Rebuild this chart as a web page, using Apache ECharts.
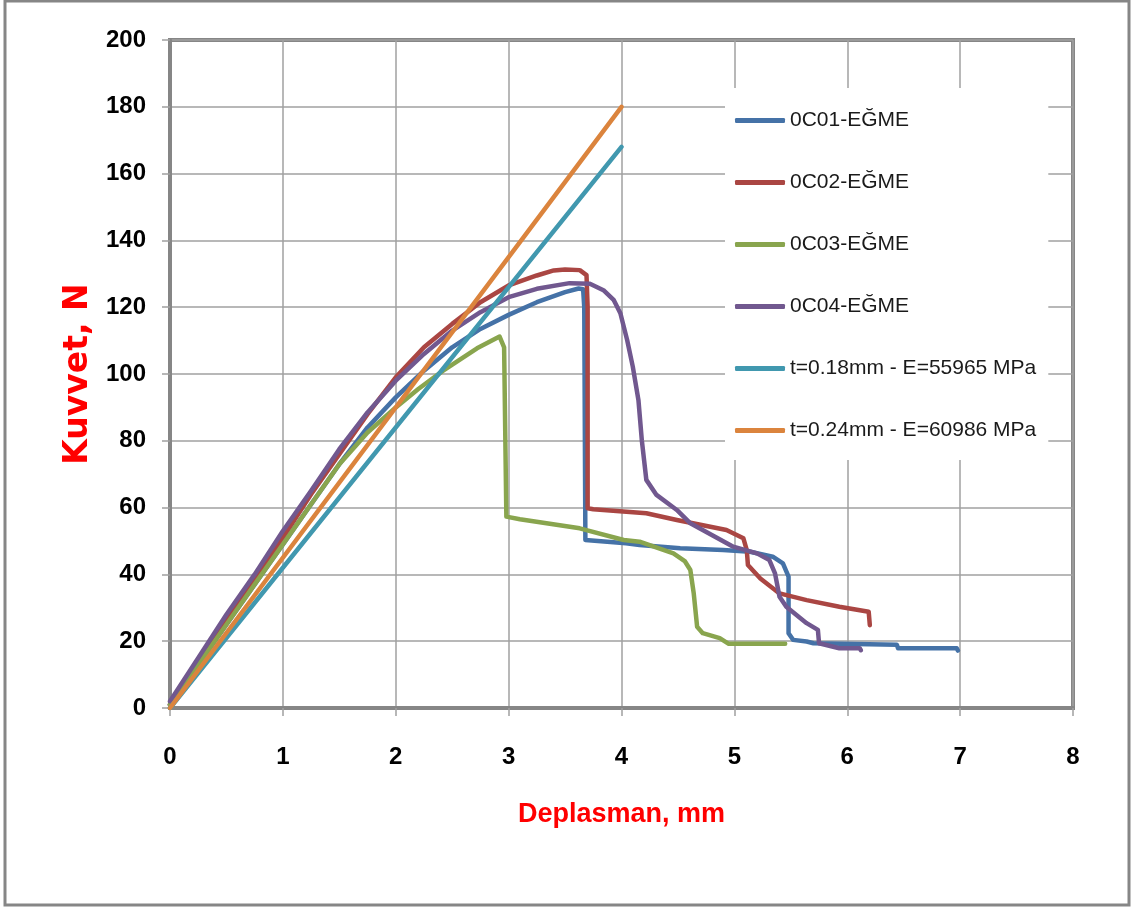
<!DOCTYPE html>
<html>
<head>
<meta charset="utf-8">
<script src="https://cdn.jsdelivr.net/npm/echarts@6/dist/echarts.min.js"></script>
<style>
html,body{margin:0;padding:0;background:#fff;}
#c{width:1132px;height:909px;}
</style>
</head>
<body>
<div id="c"></div>
<script>
var seriesNames = ['0C01-EĞME','0C02-EĞME','0C03-EĞME','0C04-EĞME','t=0.18mm - E=55965 MPa','t=0.24mm - E=60986 MPa'];
var seriesColors = ['#4572A7','#AA4643','#89A54E','#71588F','#4198AF','#DB843D'];
var xTicks = [0,1,2,3,4,5,6,7,8];
var yTicks = [0,20,40,60,80,100,120,140,160,180,200];

var data0C01 = [[0,1],[0.25,13],[0.5,25],[0.75,37],[1,49],[1.25,61],[1.5,73],[1.75,84],[2,93],[2.25,101],[2.5,108],[2.75,113.5],[3,117.7],[3.25,121.5],[3.5,124.5],[3.62,125.6],[3.66,125.4],[3.67,120],[3.68,50.3],[4.04,49.3],[4.16,48.8],[4.52,47.8],[4.9,47.3],[5.14,46.8],[5.34,45.3],[5.43,43.3],[5.48,39.3],[5.48,22.4],[5.52,20.4],[5.64,19.9],[5.7,19.4],[6.44,18.9],[6.45,17.9],[6.97,17.9],[6.98,17.2]];
var data0C02 = [[0,1],[0.25,13],[0.5,26],[0.75,39],[1,51],[1.25,64],[1.5,76],[1.75,88],[2,99],[2.25,108],[2.5,115],[2.75,121.5],[3,126.5],[3.25,129.5],[3.4,131],[3.5,131.3],[3.63,131.1],[3.69,129.6],[3.7,120],[3.7,59.8],[3.75,59.5],[4.22,58.3],[4.49,56.3],[4.93,53.3],[5.08,50.8],[5.11,47.3],[5.12,42.8],[5.23,38.8],[5.4,34.3],[5.64,32.3],[5.93,30.3],[6.19,28.8],[6.2,24.8]];
var data0C03 = [[0,1],[0.25,13],[0.5,25],[0.75,37],[1,49],[1.25,61],[1.5,73],[1.75,82.5],[2,90],[2.2,95.5],[2.42,101],[2.72,107.7],[2.92,111.2],[2.96,108],[2.98,57.3],[3.1,56.5],[3.63,53.8],[4.02,50.3],[4.16,49.8],[4.46,46.3],[4.56,44],[4.61,41.3],[4.64,34.3],[4.67,24.3],[4.72,22.4],[4.87,20.9],[4.95,19.2],[5.45,19.2]];
var data0C04 = [[0,2],[0.25,15],[0.5,28],[0.75,40],[1,53],[1.25,65],[1.5,77.5],[1.75,88.5],[2,98],[2.25,106],[2.5,113],[2.75,118.5],[3,123],[3.25,125.5],[3.54,127.2],[3.72,127],[3.84,125.1],[3.93,122.2],[3.99,118.2],[4.05,110.2],[4.1,102.2],[4.15,92.2],[4.18,80.2],[4.22,68.3],[4.31,63.8],[4.49,59.3],[4.61,55.3],[4.99,48.3],[5.2,46.3],[5.31,44.3],[5.36,40.3],[5.4,33.3],[5.46,30.3],[5.64,25.4],[5.74,23.4],[5.75,19.4],[5.93,17.9],[6.11,17.9],[6.12,17.3]];
var dataT018 = [[0,0],[4,168]];
var dataT024 = [[0,0],[4,180]];

var allData = [data0C01, data0C02, data0C03, data0C04, dataT018, dataT024];

var chart = echarts.init(document.getElementById('c'), null, {renderer:'canvas'});
var series = allData.map(function(d, i){
  return {
    name: seriesNames[i],
    type: 'line',
    data: d,
    showSymbol: false,
    symbol: 'none',
    color: seriesColors[i],
    lineStyle: {width: 4.5, color: seriesColors[i], join: 'round', cap: 'round'},
    animation: false
  };
});

var font = "'Liberation Sans', Arial, sans-serif";

chart.setOption({
  backgroundColor: '#fff',
  animation: false,
  graphic: [{
    type: 'rect',
    shape: {x: 5, y: 1, width: 1124, height: 904},
    style: {fill: 'none', stroke: '#868686', lineWidth: 3},
    z: 100
  }],
  grid: {
    left: 170, right: 59, top: 40, bottom: 201,
    show: true, borderColor: '#868686', borderWidth: 4, backgroundColor: 'transparent'
  },
  legend: {
    orient: 'vertical',
    left: 725, top: 88,
    padding: [22, 12, 19, 10],
    itemGap: 41,
    itemWidth: 50, itemHeight: 5,
    icon: 'roundRect',
    backgroundColor: '#fff',
    data: seriesNames,
    textStyle: {fontFamily: font, fontSize: 21, color: '#1a1a1a'},
    z: 5
  },
  xAxis: {
    type: 'value', min: 0, max: 8, interval: 1,
    name: 'Deplasman, mm', nameLocation: 'middle', nameGap: 93,
    nameTextStyle: {fontFamily: font, fontWeight: 'bold', fontSize: 27, color: '#ff0000'},
    axisLine: {show: true, lineStyle: {color: '#868686', width: 4}},
    axisTick: {show: true, length: 8, lineStyle: {color: '#a0a0a0', width: 1.5}},
    axisLabel: {margin: 37, fontFamily: font, fontWeight: 'bold', fontSize: 24, color: '#000',
      formatter: function(v){ return xTicks.indexOf(v) >= 0 ? String(v) : ''; }},
    splitLine: {show: true, lineStyle: {color: '#a0a0a0', width: 1.5}}
  },
  yAxis: {
    type: 'value', min: 0, max: 200, interval: 20,
    name: 'Kuvvet, N', nameLocation: 'middle', nameGap: 63, nameRotate: 90,
    nameTextStyle: {fontFamily: "'DejaVu Sans', sans-serif", fontWeight: 'bold', fontSize: 33, color: '#ff0000'},
    axisLine: {show: true, lineStyle: {color: '#868686', width: 4}},
    axisTick: {show: true, length: 8, lineStyle: {color: '#a0a0a0', width: 1.5}},
    axisLabel: {margin: 24, fontFamily: font, fontWeight: 'bold', fontSize: 24, color: '#000',
      formatter: function(v){ return yTicks.indexOf(v) >= 0 ? String(v) : ''; }},
    splitLine: {show: true, lineStyle: {color: '#a0a0a0', width: 1.5}}
  },
  series: series
});
</script>
</body>
</html>
